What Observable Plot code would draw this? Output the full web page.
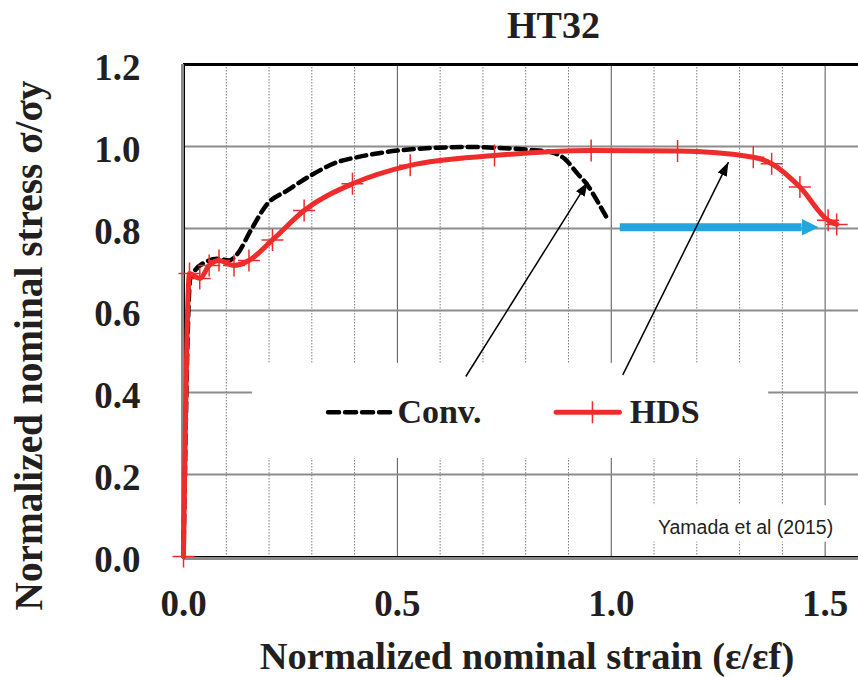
<!DOCTYPE html>
<html><head><meta charset="utf-8">
<script src="https://cdn.jsdelivr.net/npm/d3@7"></script>
<script src="https://cdn.jsdelivr.net/npm/@observablehq/plot@0.6"></script>
<style>body{margin:0;background:#fff} svg{display:block}</style>
</head><body><div id="chart"></div>
<script>
// ---- data ----
const titleText = "HT32";
const xLabel = "Normalized nominal strain (ε/εf)";
const yLabel = "Normalized nominal stress σ/σy";
const creditText = "Yamada et al (2015)";

const xTicks = [0, 0.5, 1.0, 1.5];
const yTicks = [0, 0.2, 0.4, 0.6, 0.8, 1.0, 1.2];
const xGridMinor = [0.1, 0.2, 0.3, 0.4, 0.6, 0.7, 0.8, 0.9, 1.1, 1.2, 1.3, 1.4];
const xGridMajor = [0.5, 1.0, 1.5];
const yGrid = [0.2, 0.4, 0.6, 0.8, 1.0];

// Conv. (dashed)
const convStrain = [0, 0.016, 0.055, 0.079, 0.106, 0.126, 0.157, 0.196, 0.243, 0.297, 0.36, 0.407, 0.5, 0.594, 0.672, 0.703, 0.805, 0.86, 0.891, 0.92, 0.945, 0.97, 0.992];
const convStress = [0, 0.68, 0.72, 0.726, 0.722, 0.738, 0.795, 0.86, 0.893, 0.929, 0.962, 0.974, 0.99, 0.997, 0.999, 0.998, 0.992, 0.986, 0.97, 0.935, 0.905, 0.862, 0.822];

// HDS (red with + markers)
const hdsStrain = [0, 0.014, 0.038, 0.06, 0.083, 0.118, 0.153, 0.208, 0.282, 0.395, 0.53, 0.727, 0.953, 1.155, 1.332, 1.375, 1.441, 1.507, 1.527];
const hdsStress = [0, 0.69, 0.678, 0.71, 0.722, 0.71, 0.722, 0.772, 0.844, 0.909, 0.954, 0.978, 0.99, 0.989, 0.974, 0.958, 0.901, 0.82, 0.81];

// annotation arrows (black)
const arrowX1 = [0.66, 1.027];
const arrowY1 = [0.439, 0.443];
const arrowX2 = [0.945, 1.274];
const arrowY2 = [0.913, 0.962];

// blue ductility arrow
const blueX1 = [1.02];
const blueX2 = [1.445];
const blueY = [0.803];

// legend
const legendLabels = ["Conv.", "HDS"];
const legendLineX1 = [0.338, 0.871];
const legendLineX2 = [0.484, 1.019];
const legendLineY = [0.352, 0.352];
const legendTextX = [0.5, 1.043];
const legendTextY = [0.325, 0.325];
const legendPlusX = [0.956];

// white boxes (legend, credit)
const boxX1 = [0.161, 1.07];
const boxX2 = [1.368, 1.56];
const boxY1 = [0.239, 0.035];
const boxY2 = [0.471, 0.124];

// ---- build ----
const SERIF = "'Liberation Serif','Times New Roman',Times,serif";
const INK = "#231f20";
const RED = "#ee2c2c";
const BLUE = "#22a6df";

const conv = convStrain.map((x, i) => ({x, y: convStress[i]}));
const hds = hdsStrain.map((x, i) => ({x, y: hdsStress[i]}));
const arrows = arrowX1.map((x1, i) => ({x1, y1: arrowY1[i], x2: arrowX2[i], y2: arrowY2[i]}));
const blue = blueX1.map((x1, i) => ({x1, x2: blueX2[i], y: blueY[i]}));
const boxes = boxX1.map((x1, i) => ({x1, x2: boxX2[i], y1: boxY1[i], y2: boxY2[i]}));
const legend = legendLabels.map((label, i) => ({label, x1: legendLineX1[i], x2: legendLineX2[i], y: legendLineY[i], tx: legendTextX[i], ty: legendTextY[i]}));

const plusSymbol = {
  draw(context, size) {
    const r = Math.sqrt(size / Math.PI);
    context.moveTo(-r, 0); context.lineTo(r, 0);
    context.moveTo(0, -r); context.lineTo(0, r);
  }
};

const fmt = d3.format(".1f");

const chart = Plot.plot({
  width: 858, height: 677,
  marginLeft: 183, marginRight: 0, marginTop: 64, marginBottom: 121,
  x: {domain: [0, 1.578]},
  y: {domain: [0, 1.2]},
  style: {fontFamily: SERIF, fontWeight: "bold", fontSize: "37px", color: INK, background: "#fff", overflow: "visible"},
  marks: [
    // grid
    Plot.ruleX(xGridMinor, {stroke: "#7a7a7a", strokeWidth: 1, strokeDasharray: "1.5,1.5"}),
    Plot.ruleX(xGridMajor, {stroke: "#555", strokeWidth: 1}),
    Plot.ruleY(yGrid, {stroke: "#8c8c8c", strokeWidth: 2}),
    // white boxes
    Plot.rect(boxes, {x1: "x1", x2: "x2", y1: "y1", y2: "y2", fill: "#fff"}),
    // frame
    Plot.ruleY([1.2], {stroke: "#000", strokeWidth: 3}),
    Plot.ruleX([0], {stroke: "#8a8a8a", strokeWidth: 3, dx: -1}),
    Plot.ruleX([0], {stroke: "#000", strokeWidth: 1, dx: 1}),
    Plot.ruleY([0], {stroke: "#8a8a8a", strokeWidth: 3, dy: 2}),
    Plot.ruleY([0], {stroke: "#000", strokeWidth: 1}),
    // axes
    Plot.axisX({ticks: xTicks, tickFormat: fmt, tickSize: 0, tickPadding: 33, label: null, fontSize: 37, fontWeight: "bold", fill: INK}),
    Plot.axisY({ticks: yTicks, tickFormat: fmt, tickSize: 0, tickPadding: 43, dy: 4, label: null, fontSize: 37, fontWeight: "bold", fill: INK}),
    // curves
    Plot.line(conv, {x: "x", y: "y", stroke: "#000", strokeWidth: 4.5, strokeDasharray: "10,6", curve: "monotone-x"}),
    Plot.line(hds, {x: "x", y: "y", stroke: RED, strokeWidth: 5, curve: "monotone-x"}),
    Plot.dot(hds, {x: "x", y: "y", symbol: plusSymbol, r: 11, stroke: RED, strokeWidth: 1.5, fill: "none"}),
    // arrows
    Plot.link(blue, {x1: "x1", x2: "x2", y1: "y", y2: "y", stroke: BLUE, strokeWidth: 8, strokeLinecap: "butt", markerEnd: "arrow"}),
    Plot.link(arrows, {x1: "x1", y1: "y1", x2: "x2", y2: "y2", stroke: "#000", strokeWidth: 1.5, markerEnd: "arrow"}),
    // legend
    Plot.link(legend.filter(d => d.label === "Conv."), {x1: "x1", x2: "x2", y1: "y", y2: "y", stroke: "#000", strokeWidth: 4.5, strokeDasharray: "11,6", strokeLinecap: "round"}),
    Plot.link(legend.filter(d => d.label === "HDS"), {x1: "x1", x2: "x2", y1: "y", y2: "y", stroke: RED, strokeWidth: 5, strokeLinecap: "round"}),
    Plot.dot(legendPlusX, {x: d => d, y: legendLineY[1], symbol: plusSymbol, r: 11, stroke: RED, strokeWidth: 1.5, fill: "none"}),
    Plot.text(legend, {x: "tx", y: "ty", text: "label", textAnchor: "start", lineAnchor: "bottom", fontSize: 34, fontWeight: "bold", fill: INK}),
    // credit
    Plot.text([creditText], {x: 1.314, y: 0.056, text: d => d, lineAnchor: "bottom", fontFamily: "'Liberation Sans',Arial,sans-serif", fontWeight: "normal", fontSize: 19.5, fill: INK}),
    // title & axis labels
    Plot.text([titleText], {x: 0.865, frameAnchor: "top", text: d => d, lineAnchor: "bottom", dy: -27, fontSize: 38, fontWeight: "bold", fill: INK}),
    Plot.text([xLabel], {frameAnchor: "bottom", text: d => d, textAnchor: "middle", lineAnchor: "bottom", dx: 6, dy: 112, fontSize: 38.5, fontWeight: "bold", fill: INK}),
    Plot.text([yLabel], {frameAnchor: "left", text: d => d, textAnchor: "middle", rotate: -90, lineAnchor: "bottom", dx: -142, dy: 35, fontSize: 39.3, fontWeight: "bold", fill: INK})
  ]
});

// style arrow heads as filled triangles
chart.querySelectorAll("marker").forEach(m => {
  const c = m.getAttribute("stroke");
  m.setAttribute("markerUnits", "userSpaceOnUse");
  m.setAttribute("fill", c);
  m.setAttribute("stroke", "none");
  const p = m.querySelector("path");
  if (c && c.toLowerCase() === BLUE) {
    m.setAttribute("viewBox", "0 -9 18 18");
    m.setAttribute("markerWidth", 18);
    m.setAttribute("markerHeight", 18);
    p.setAttribute("d", "M0,-8.5L17,0L0,8.5Z");
  } else {
    m.setAttribute("viewBox", "-14 -6 14 12");
    m.setAttribute("markerWidth", 14);
    m.setAttribute("markerHeight", 12);
    p.setAttribute("d", "M-14,-5L0,0L-14,5Z");
  }
});

document.getElementById("chart").appendChild(chart);
</script>
</body></html>
